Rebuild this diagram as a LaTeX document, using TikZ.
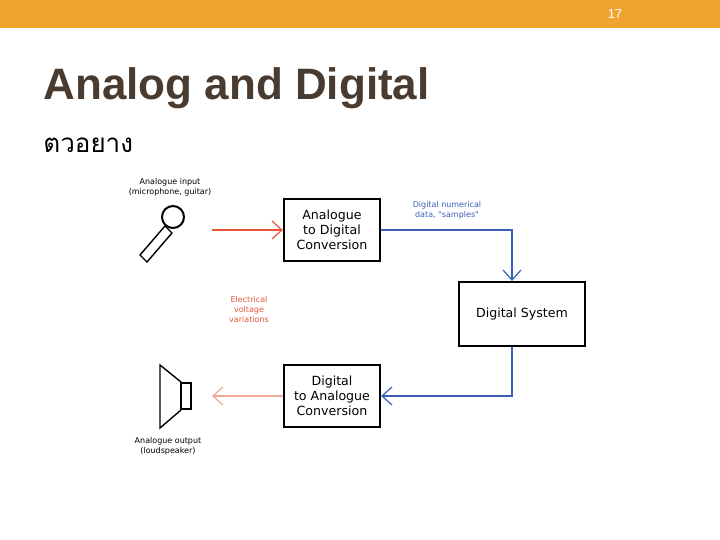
\documentclass[tikz,border=0pt]{standalone}
\usepackage{fontspec}
\setmainfont{Liberation Sans}
\newfontfamily\dv{DejaVu Sans}
\newfontfamily\thaifont[Script=Thai]{Loma}
\usetikzlibrary{arrows.meta}
\definecolor{bar}{HTML}{F0A430}
\definecolor{ttl}{HTML}{4A3B30}
\definecolor{rd}{HTML}{E8553A}
\definecolor{lrd}{HTML}{F2A898}
\definecolor{bl}{HTML}{3A5FB8}
\begin{document}
\begin{tikzpicture}[x=0.5pt,y=-0.5pt,
  blk/.style={draw,line width=1.1pt,minimum width=48pt,minimum height=31pt,align=center,font=\dv\fontsize{6.3}{7.5}\selectfont,inner sep=0pt},
  lab/.style={align=center,font=\dv\fontsize{4}{5}\selectfont},
  arr/.style={-{Straight Barb[length=5pt,width=9pt]},line width=0.6pt}]
\useasboundingbox (0,0) rectangle (720,540);
\fill[bar] (0,0) rectangle (720,28);
\node[text=white,font=\fontsize{6.5}{8}\selectfont] (pg) at (615,14) {17};
\node[anchor=base west,text=ttl,font=\bfseries\fontsize{22}{26}\selectfont,inner sep=0pt] (title) at (43,100) {Analog and Digital};
\node[anchor=base west,font=\thaifont\fontsize{13}{15}\selectfont,inner sep=0pt] (ex) at (43,153) {ตวอยาง};
\node[blk] (adc) at (332,230) {Analogue\\to Digital\\Conversion};
\node[blk,minimum width=63pt,minimum height=32pt] (ds) at (522,314) {Digital System};
\node[blk] (dac) at (332,396) {Digital\\to Analogue\\Conversion};
\coordinate (micend) at (212,230);
\coordinate (spkend) at (212,396);
\draw[arr,rd] (micend) -- (adc.west);
\draw[arr,lrd] (dac.west) -- (spkend);
\draw[arr,bl] (adc.east) -| (ds.north -| 512,0);
\draw[arr,bl] (ds.south -| 512,0) |- (dac.east);
\node[lab,text=bl] (dl) at (447,210) {Digital numerical\\data, "samples"};
\node[lab,text=rd] (ev) at (249,310) {Electrical\\voltage\\variations};
\node[lab] (ai) at (170,187) {Analogue input\\(microphone, guitar)};
\node[lab] (ao) at (168,446) {Analogue output\\(loudspeaker)};
% microphone
\draw[line width=1pt] (173,217) circle (11);
\draw[line width=0.7pt] (165,226) -- (172,233) -- (147,262) -- (140,255) -- cycle;
% speaker
\draw[line width=0.7pt] (160,365) -- (181,382) -- (181,410) -- (160,428) -- cycle;
\draw[line width=0.7pt] (181,383) rectangle (191,409);
\end{tikzpicture}
\end{document}
